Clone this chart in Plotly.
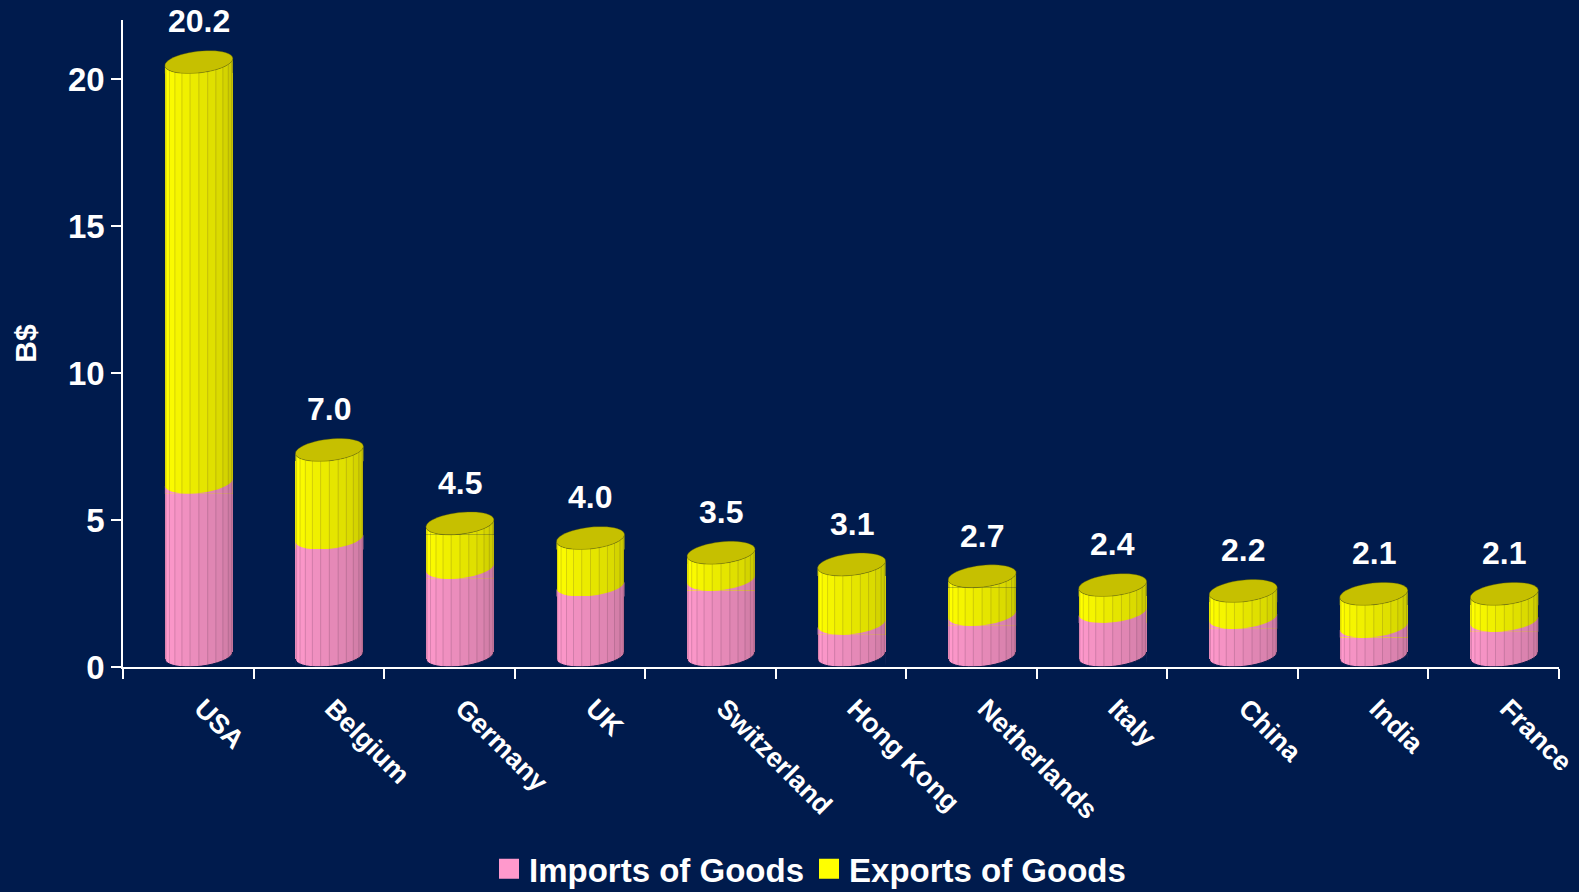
import numpy as np
import plotly.graph_objects as go

# Trade with the main partner countries, billions of dollars
countries = ["USA", "Belgium", "Germany", "UK", "Switzerland", "Hong Kong",
             "Netherlands", "Italy", "China", "India", "France"]
imports_goods = [5.9, 4.0, 3.0, 2.4, 2.6, 1.1, 1.4, 1.5, 1.3, 1.0, 1.2]
exports_goods = [14.3, 3.0, 1.5, 1.6, 0.9, 2.0, 1.3, 0.9, 0.9, 1.1, 0.9]
y_ticks = [0, 5, 10, 15, 20]

BG = "#001B4D"
PINK = "#FF99CC"
YELLOW = "#FFFF00"
TOP = "#C6C000"
FONT = "Liberation Sans, Arial, sans-serif"

# cylinder look
BAR_W = 0.52          # bar width in category units
BAR_OFF = -0.179      # left edge relative to category centre
ELL_B = 0.37          # half height of the elliptical faces (y units)
TILT = 0.12           # tilt of the faces (y units)
RAD = float(np.hypot(ELL_B, TILT))

x_idx = np.arange(len(countries))
totals = [round(i + e, 1) for i, e in zip(imports_goods, exports_goods)]


def arc_points(xc, level, t0, t1, n=20):
    th = np.linspace(t0, t1, n)
    a = BAR_W / 2
    xs = xc + a * np.cos(th)
    ys = level + RAD + ELL_B * np.sin(th) + TILT * np.cos(th)
    return list(zip(xs, ys))


def path_of(points):
    s = "M " + " L ".join(f"{x:.5f},{y:.5f}" for x, y in points)
    return s + " Z"


fig = go.Figure()
fig.add_trace(go.Bar(x=x_idx, y=imports_goods, name="Imports of Goods",
                     marker=dict(color=PINK, line=dict(width=0)),
                     width=BAR_W, offset=BAR_OFF, showlegend=False,
                     hovertemplate="%{y}<extra>Imports of Goods</extra>"))
fig.add_trace(go.Bar(x=x_idx, y=exports_goods, name="Exports of Goods",
                     marker=dict(color=YELLOW, line=dict(width=0)),
                     width=BAR_W, offset=BAR_OFF, showlegend=False,
                     hovertemplate="%{y}<extra>Exports of Goods</extra>"))

# legend swatches
for name, col in [("Imports of Goods", PINK), ("Exports of Goods", YELLOW)]:
    fig.add_trace(go.Scatter(x=[None], y=[None], mode="markers", name=name,
                             marker=dict(symbol="square", size=16, color=col,
                                         line=dict(color=col, width=4))))

shapes = []
N_STRIPS = 12
shade = [0.05, 0.0, 0.02, 0.04, 0.06, 0.08, 0.10, 0.12, 0.14, 0.17, 0.20, 0.23]
for i, (imp, tot) in enumerate(zip(imports_goods, totals)):
    a = BAR_W / 2
    xc = i + BAR_OFF + a
    xl, xr = xc - a, xc + a
    # rounded front edge of the exports face and of the top
    for level, col in [(imp, PINK), (tot, YELLOW)]:
        pts = arc_points(xc, level, np.pi, 2 * np.pi) + [(xr, level), (xl, level)]
        shapes.append(dict(type="path", path=path_of(pts), xref="x", yref="y",
                           fillcolor=col, line=dict(width=0), layer="above"))
    # rounded bottom
    pts = arc_points(xc, 0, np.pi, 2 * np.pi) + [(xr + 0.004, 0), (xl - 0.004, 0)]
    shapes.append(dict(type="path", path=path_of(pts), xref="x", yref="y",
                       fillcolor=BG, line=dict(color=BG, width=1), layer="above"))
    # shaded facets
    for k in range(N_STRIPS):
        t0 = np.pi + k * np.pi / N_STRIPS
        t1 = np.pi + (k + 1) * np.pi / N_STRIPS
        top = arc_points(xc, tot, t0, t1, 4)
        bot = arc_points(xc, 0, t0, t1, 4)[::-1]
        shapes.append(dict(type="path", path=path_of(top + bot), xref="x", yref="y",
                           fillcolor=f"rgba(0,0,0,{shade[k]})",
                           line=dict(color="rgba(60,40,60,0.16)", width=0.6),
                           layer="above"))
    # top face
    pts = arc_points(xc, tot, 0, 2 * np.pi, 48)
    shapes.append(dict(type="path", path=path_of(pts), xref="x", yref="y",
                       fillcolor=TOP, line=dict(color="rgba(90,90,0,0.6)", width=0.6),
                       layer="above"))

annotations = []
for i, tot in enumerate(totals):
    annotations.append(dict(x=i + BAR_OFF + BAR_W / 2, y=tot, xref="x", yref="y",
                            text=f"{tot:.1f}", showarrow=False, yanchor="middle",
                            yshift=52, font=dict(family=FONT, size=32,
                                                 color="white", weight="bold")))

fig.update_layout(
    width=1579, height=892,
    paper_bgcolor=BG, plot_bgcolor=BG,
    margin=dict(l=123, r=20, t=20, b=224.5, autoexpand=False),
    barmode="stack", bargap=0,
    font=dict(family=FONT, color="white", weight="bold"),
    shapes=shapes, annotations=annotations,
    showlegend=True,
    legend=dict(orientation="h", xref="container", yref="container",
                x=0.513, xanchor="center", y=0.026, yanchor="middle",
                traceorder="normal", bgcolor="rgba(0,0,0,0)",
                font=dict(family=FONT, size=33, color="white", weight="bold")),
)
fig.update_xaxes(range=[-0.5, len(countries) - 0.5],
                 tickmode="array", tickvals=list(x_idx), ticktext=countries,
                 tickangle=45, ticks="", showgrid=False, zeroline=False,
                 showline=True, linecolor="white", linewidth=1.5,
                 ticklabelstandoff=13, ticklabelshift=14,
                 tickfont=dict(family=FONT, size=27, color="white", weight="bold"),
                 minor=dict(tickmode="array",
                            tickvals=[v - 0.5 for v in range(len(countries) + 1)],
                            ticks="outside", ticklen=10, tickcolor="white",
                            tickwidth=1.5, showgrid=False))
fig.update_yaxes(range=[0, 22.02], tickmode="array", tickvals=y_ticks,
                 ticks="outside", ticklen=10, tickcolor="white", tickwidth=1.5,
                 showgrid=False, zeroline=False, showline=True,
                 linecolor="white", linewidth=1.5,
                 tickfont=dict(family=FONT, size=33, color="white", weight="bold"),
                 title=dict(text="B$", standoff=22,
                            font=dict(family=FONT, size=30, color="white",
                                      weight="bold")))

fig.write_html("out.html")
